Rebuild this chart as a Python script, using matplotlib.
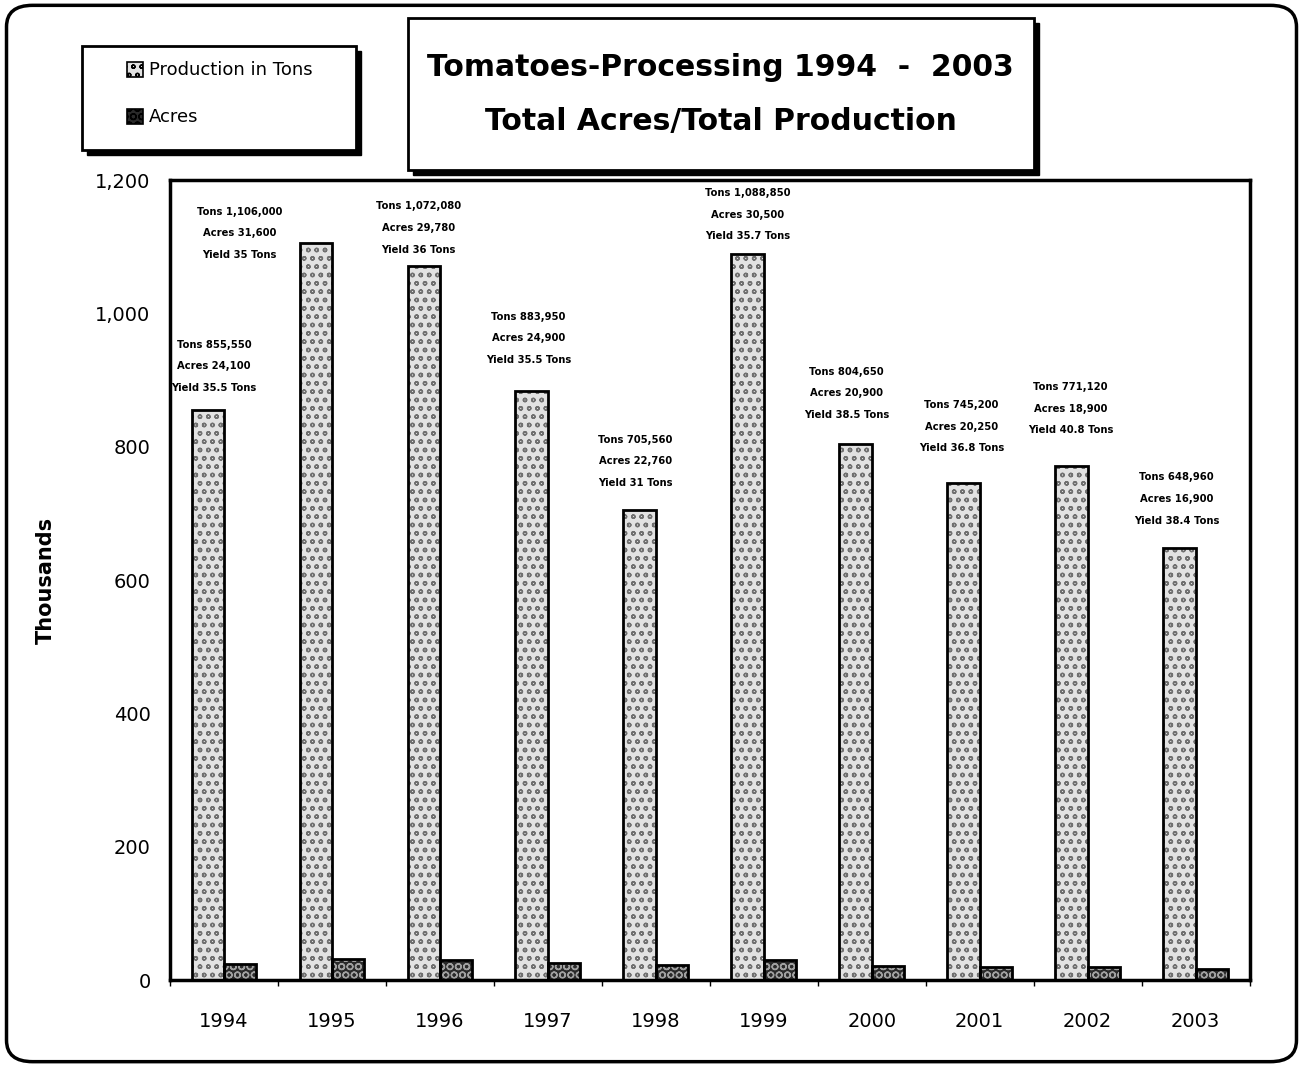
import matplotlib.pyplot as plt
import numpy as np
from matplotlib.patches import FancyBboxPatch, Rectangle, Patch

years = ["1994", "1995", "1996", "1997", "1998", "1999", "2000", "2001", "2002", "2003"]
tons = [855550, 1106000, 1072080, 883950, 705560, 1088850, 804650, 745200, 771120, 648960]
acres = [24100, 31600, 29780, 24900, 22760, 30500, 20900, 20250, 18900, 16900]
yields = ["35.5", "35", "36", "35.5", "31", "35.7", "38.5", "36.8", "40.8", "38.4"]

# label offsets in pixels from top of production bar
lab_dx = [6, -76, -5, -3, -4, 0, -9, -2, -1, -3]
lab_dy = [17, -17, 11, 26, 22, 13, 24, 30, 31, 22]

plt.rcParams['font.family'] = ['DejaVu Sans']
fig = plt.figure(figsize=(13.03, 10.67), dpi=100)

# outer rounded border
fig.patches.append(FancyBboxPatch((0.005, 0.005), 0.99, 0.99, boxstyle="round,pad=0,rounding_size=0.02",
                                  transform=fig.transFigure, fill=False, lw=2.5, ec='black'))

ax = fig.add_axes([0.1305, 0.0815, 0.8285, 0.7495])
x = np.arange(len(years))
w = 0.3
t_k = np.array(tons) / 1000
a_k = np.array(acres) / 1000

ax.bar(x - 0.15, t_k, w, color='#e2e2e2', hatch='oo', edgecolor='#707070', lw=0, zorder=2)
ax.bar(x - 0.15, t_k, w, fill=False, edgecolor='black', lw=2, zorder=3)
ax.bar(x + 0.15, a_k, w, color='#2a2a2a', hatch='OO', edgecolor='#a0a0a0', lw=0, zorder=2)
ax.bar(x + 0.15, a_k, w, fill=False, edgecolor='black', lw=2, zorder=3)

for i in range(len(years)):
    txt = f"Tons {tons[i]:,}\nAcres {acres[i]:,}\nYield {yields[i]} Tons"
    ax.annotate(txt, (x[i] - 0.15, t_k[i]), xytext=(lab_dx[i], lab_dy[i]), textcoords='offset pixels',
                ha='center', va='bottom', fontsize=7.2, fontweight='bold', linespacing=2.45, zorder=4)

ax.set_xlim(-0.5, len(years) - 0.5)
ax.set_ylim(0, 1200)
ax.set_yticks(np.arange(0, 1201, 200))
ax.set_yticklabels([f"{v:,}" for v in range(0, 1201, 200)], fontsize=14)
ax.set_xticks(x)
ax.set_xticklabels(years, fontsize=14)
ax.tick_params(axis='y', length=0, pad=14)
ax.tick_params(axis='x', length=0, pad=23)
ax.set_xticks(np.arange(-0.5, len(years), 1), minor=True)
ax.tick_params(axis='x', which='minor', length=4, width=1)
for s in ax.spines.values():
    s.set_linewidth(2.5)
ax.set_ylabel("Thousands", fontsize=15, fontweight='bold', labelpad=28)

# title box with shadow
fig.patches.append(Rectangle((0.317, 0.836), 0.4805, 0.1423, transform=fig.transFigure, color='black', zorder=0))
fig.patches.append(Rectangle((0.313, 0.8407), 0.4805, 0.1423, transform=fig.transFigure, fc='white',
                             ec='black', lw=2, zorder=1))
fig.text(0.553, 0.937, "Tomatoes-Processing 1994  -  2003", ha='center', va='center', fontsize=21.5, fontweight='bold')
fig.text(0.553, 0.886, "Total Acres/Total Production", ha='center', va='center', fontsize=21.5, fontweight='bold')

# legend box with shadow
fig.patches.append(Rectangle((0.067, 0.855), 0.21, 0.0975, transform=fig.transFigure, color='black', zorder=0))
fig.patches.append(Rectangle((0.063, 0.859), 0.21, 0.0975, transform=fig.transFigure, fc='white',
                             ec='black', lw=2, zorder=1))
handles = [Patch(fc='#e2e2e2', hatch='oo', ec='black', lw=1.2), Patch(fc='#2a2a2a', hatch='OO', ec='black', lw=1.2)]
fig.legend(handles, ["Production in Tons", "Acres"], loc='center left', bbox_to_anchor=(0.085, 0.912),
           frameon=False, fontsize=13, handlelength=0.9, handleheight=0.9, handletextpad=0.3, labelspacing=1.6)

fig.savefig("out.png", dpi=100)
